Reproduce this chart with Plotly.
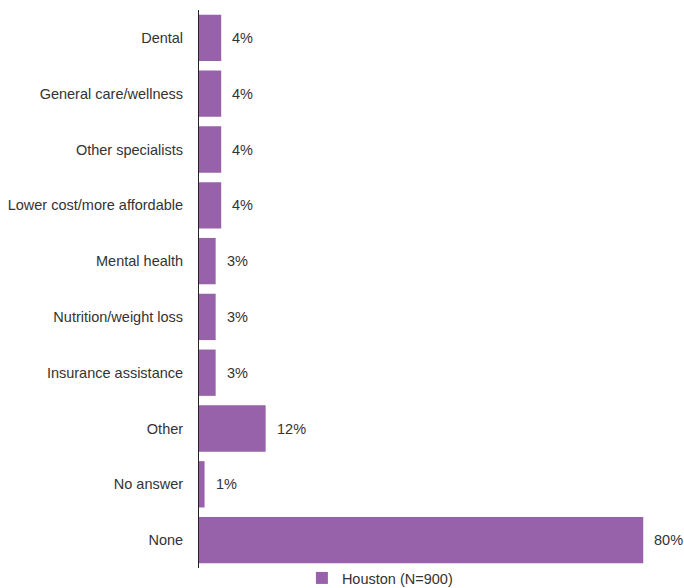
import plotly.graph_objects as go

categories = ["Dental", "General care/wellness", "Other specialists",
              "Lower cost/more affordable", "Mental health", "Nutrition/weight loss",
              "Insurance assistance", "Other", "No answer", "None"]
values = [4, 4, 4, 4, 3, 3, 3, 12, 1, 80]
labels = [f"{v}%" for v in values]
series_name = "Houston (N=900)"

color = "#9862AA"
font = "Liberation Sans, Arial, sans-serif"
fsize = 14.5

fig = go.Figure()
fig.add_trace(go.Bar(
    x=values, y=categories, orientation="h", name=series_name,
    marker=dict(color=color, line=dict(width=0)),
    showlegend=True,
))
for c, v, t in zip(categories, values, labels):
    fig.add_annotation(x=v, y=c, text=t, showarrow=False, xanchor="left",
                       xshift=9, font=dict(family=font, size=fsize, color="#333333"))

fig.update_layout(
    width=684, height=588,
    margin=dict(l=199, r=13, t=10, b=20, autoexpand=False),
    paper_bgcolor="white", plot_bgcolor="white",
    font=dict(family=font, size=fsize, color="#333333"),
    bargap=0.17,
    showlegend=True,
    legend=dict(orientation="h", x=0.218, xanchor="left", yref="container",
                y=0.017, yanchor="middle", bgcolor="rgba(0,0,0,0)",
                font=dict(family=font, size=fsize, color="#333333"),
                itemwidth=30),
    xaxis=dict(range=[0, 85], showgrid=False, zeroline=False, showticklabels=False,
               ticks="", showline=False),
    yaxis=dict(autorange="reversed", showgrid=False, zeroline=False, ticks="",
               showline=True, linecolor="#222222", linewidth=1,
               ticklabelstandoff=12),
)
fig.write_html("out.html", config={"displayModeBar": False},
               post_script="document.body.style.margin='0';document.body.style.overflow='hidden';")
